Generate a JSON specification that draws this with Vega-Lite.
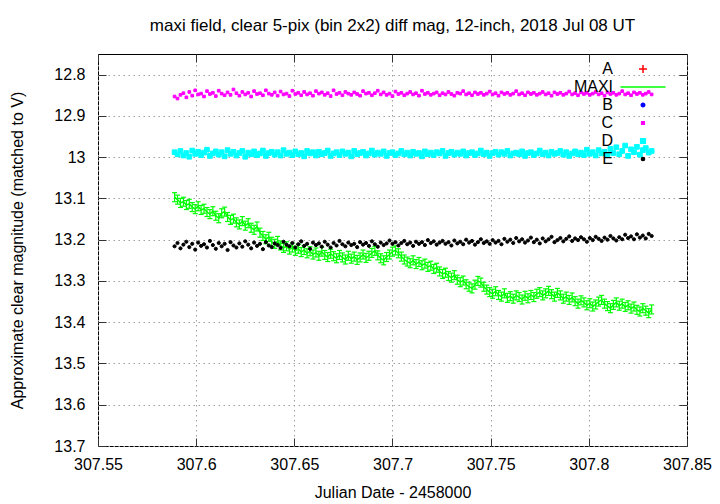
{
"$schema": "https://vega.github.io/schema/vega-lite/v6.json",
"width": 589, "height": 392,
"autosize": {"type": "none"},
"padding": {"left": 98, "top": 54, "right": 33, "bottom": 58},
"background": "white",
"title": {"text": "maxi field, clear 5-pix (bin 2x2) diff mag, 12-inch, 2018 Jul 08 UT", "fontSize": 17, "font": "Liberation Sans", "fontWeight": "normal", "color": "black", "offset": 19, "anchor": "middle"},
"config": {"view": {"stroke": "black", "strokeWidth": 1}, "font": "Liberation Sans"},
"data": {"values": [
{"t":307.589,"MAXI":13.097,"C":12.853,"D":12.988,"E":13.216},
{"t":307.5905,"MAXI":13.103,"C":12.858,"D":12.993,"E":13.208},
{"t":307.592,"MAXI":13.111,"C":12.849,"D":12.985,"E":13.221},
{"t":307.5935,"MAXI":13.108,"C":12.845,"D":12.996,"E":13.212},
{"t":307.595,"MAXI":13.116,"C":12.855,"D":12.990,"E":13.205},
{"t":307.5965,"MAXI":13.113,"C":12.842,"D":12.999,"E":13.218},
{"t":307.598,"MAXI":13.121,"C":12.851,"D":12.984,"E":13.210},
{"t":307.5995,"MAXI":13.126,"C":12.838,"D":12.992,"E":13.224},
{"t":307.601,"MAXI":13.119,"C":12.848,"D":12.987,"E":13.207},
{"t":307.6025,"MAXI":13.128,"C":12.846,"D":12.995,"E":13.215},
{"t":307.604,"MAXI":13.125,"C":12.853,"D":12.989,"E":13.211},
{"t":307.6055,"MAXI":13.133,"C":12.840,"D":12.982,"E":13.219},
{"t":307.607,"MAXI":13.138,"C":12.847,"D":12.997,"E":13.203},
{"t":307.6085,"MAXI":13.131,"C":12.844,"D":12.991,"E":13.213},
{"t":307.61,"MAXI":13.142,"C":12.852,"D":12.986,"E":13.222},
{"t":307.6115,"MAXI":13.148,"C":12.839,"D":12.994,"E":13.208},
{"t":307.613,"MAXI":13.136,"C":12.846,"D":12.988,"E":13.216},
{"t":307.6145,"MAXI":13.132,"C":12.850,"D":12.998,"E":13.210},
{"t":307.616,"MAXI":13.145,"C":12.843,"D":12.983,"E":13.225},
{"t":307.6175,"MAXI":13.152,"C":12.849,"D":12.992,"E":13.206},
{"t":307.619,"MAXI":13.149,"C":12.836,"D":12.987,"E":13.214},
{"t":307.6205,"MAXI":13.158,"C":12.845,"D":12.996,"E":13.219},
{"t":307.622,"MAXI":13.163,"C":12.851,"D":12.990,"E":13.209},
{"t":307.6235,"MAXI":13.155,"C":12.842,"D":12.985,"E":13.217},
{"t":307.625,"MAXI":13.166,"C":12.848,"D":12.999,"E":13.204},
{"t":307.6265,"MAXI":13.160,"C":12.844,"D":12.989,"E":13.212},
{"t":307.628,"MAXI":13.171,"C":12.853,"D":12.993,"E":13.221},
{"t":307.6295,"MAXI":13.176,"C":12.840,"D":12.986,"E":13.207},
{"t":307.631,"MAXI":13.168,"C":12.847,"D":12.995,"E":13.215},
{"t":307.6325,"MAXI":13.183,"C":12.845,"D":12.991,"E":13.210},
{"t":307.634,"MAXI":13.191,"C":12.850,"D":12.984,"E":13.223},
{"t":307.6355,"MAXI":13.199,"C":12.838,"D":12.997,"E":13.206},
{"t":307.637,"MAXI":13.193,"C":12.846,"D":12.990,"E":13.214},
{"t":307.6385,"MAXI":13.205,"C":12.849,"D":12.987,"E":13.218},
{"t":307.64,"MAXI":13.210,"C":12.843,"D":12.994,"E":13.209},
{"t":307.6415,"MAXI":13.203,"C":12.851,"D":12.988,"E":13.213},
{"t":307.643,"MAXI":13.214,"C":12.841,"D":12.996,"E":13.220},
{"t":307.6445,"MAXI":13.220,"C":12.848,"D":12.983,"E":13.205},
{"t":307.646,"MAXI":13.216,"C":12.846,"D":12.992,"E":13.212},
{"t":307.6475,"MAXI":13.224,"C":12.852,"D":12.989,"E":13.216},
{"t":307.649,"MAXI":13.219,"C":12.839,"D":12.995,"E":13.208},
{"t":307.6505,"MAXI":13.227,"C":12.847,"D":12.986,"E":13.219},
{"t":307.652,"MAXI":13.222,"C":12.844,"D":12.993,"E":13.211},
{"t":307.6535,"MAXI":13.230,"C":12.850,"D":12.990,"E":13.204},
{"t":307.655,"MAXI":13.225,"C":12.842,"D":12.998,"E":13.215},
{"t":307.6565,"MAXI":13.233,"C":12.848,"D":12.985,"E":13.210},
{"t":307.658,"MAXI":13.228,"C":12.845,"D":12.991,"E":13.222},
{"t":307.6595,"MAXI":13.236,"C":12.851,"D":12.988,"E":13.207},
{"t":307.661,"MAXI":13.231,"C":12.840,"D":12.996,"E":13.213},
{"t":307.6625,"MAXI":13.239,"C":12.846,"D":12.987,"E":13.209},
{"t":307.664,"MAXI":13.229,"C":12.843,"D":12.993,"E":13.217},
{"t":307.6655,"MAXI":13.237,"C":12.849,"D":12.990,"E":13.205},
{"t":307.667,"MAXI":13.242,"C":12.845,"D":12.984,"E":13.212},
{"t":307.6685,"MAXI":13.234,"C":12.852,"D":12.997,"E":13.219},
{"t":307.67,"MAXI":13.240,"C":12.838,"D":12.991,"E":13.208},
{"t":307.6715,"MAXI":13.245,"C":12.847,"D":12.988,"E":13.214},
{"t":307.673,"MAXI":13.237,"C":12.844,"D":12.995,"E":13.203},
{"t":307.6745,"MAXI":13.243,"C":12.850,"D":12.986,"E":13.211},
{"t":307.676,"MAXI":13.248,"C":12.842,"D":12.992,"E":13.216},
{"t":307.6775,"MAXI":13.239,"C":12.846,"D":12.989,"E":13.207},
{"t":307.679,"MAXI":13.246,"C":12.849,"D":12.998,"E":13.213},
{"t":307.6805,"MAXI":13.241,"C":12.843,"D":12.985,"E":13.210},
{"t":307.682,"MAXI":13.249,"C":12.847,"D":12.993,"E":13.218},
{"t":307.6835,"MAXI":13.243,"C":12.851,"D":12.990,"E":13.206},
{"t":307.685,"MAXI":13.236,"C":12.840,"D":12.987,"E":13.212},
{"t":307.6865,"MAXI":13.244,"C":12.846,"D":12.996,"E":13.208},
{"t":307.688,"MAXI":13.239,"C":12.844,"D":12.991,"E":13.215},
{"t":307.6895,"MAXI":13.232,"C":12.850,"D":12.984,"E":13.204},
{"t":307.691,"MAXI":13.227,"C":12.845,"D":12.994,"E":13.211},
{"t":307.6925,"MAXI":13.238,"C":12.839,"D":12.989,"E":13.217},
{"t":307.694,"MAXI":13.245,"C":12.848,"D":12.992,"E":13.207},
{"t":307.6955,"MAXI":13.250,"C":12.843,"D":12.986,"E":13.213},
{"t":307.697,"MAXI":13.242,"C":12.849,"D":12.997,"E":13.209},
{"t":307.6985,"MAXI":13.236,"C":12.846,"D":12.990,"E":13.202},
{"t":307.7,"MAXI":13.229,"C":12.852,"D":12.988,"E":13.210},
{"t":307.7015,"MAXI":13.226,"C":12.841,"D":12.995,"E":13.206},
{"t":307.703,"MAXI":13.233,"C":12.847,"D":12.991,"E":13.214},
{"t":307.7045,"MAXI":13.241,"C":12.844,"D":12.985,"E":13.208},
{"t":307.706,"MAXI":13.248,"C":12.850,"D":12.993,"E":13.203},
{"t":307.7075,"MAXI":13.253,"C":12.846,"D":12.989,"E":13.211},
{"t":307.709,"MAXI":13.257,"C":12.842,"D":12.996,"E":13.207},
{"t":307.7105,"MAXI":13.250,"C":12.848,"D":12.987,"E":13.215},
{"t":307.712,"MAXI":13.259,"C":12.845,"D":12.992,"E":13.205},
{"t":307.7135,"MAXI":13.254,"C":12.851,"D":12.990,"E":13.210},
{"t":307.715,"MAXI":13.262,"C":12.839,"D":12.998,"E":13.206},
{"t":307.7165,"MAXI":13.258,"C":12.847,"D":12.986,"E":13.213},
{"t":307.718,"MAXI":13.266,"C":12.844,"D":12.993,"E":13.201},
{"t":307.7195,"MAXI":13.263,"C":12.849,"D":12.989,"E":13.208},
{"t":307.721,"MAXI":13.271,"C":12.846,"D":12.995,"E":13.204},
{"t":307.7225,"MAXI":13.268,"C":12.843,"D":12.988,"E":13.212},
{"t":307.724,"MAXI":13.277,"C":12.850,"D":12.991,"E":13.207},
{"t":307.7255,"MAXI":13.283,"C":12.845,"D":12.985,"E":13.203},
{"t":307.727,"MAXI":13.280,"C":12.848,"D":12.997,"E":13.210},
{"t":307.7285,"MAXI":13.288,"C":12.842,"D":12.990,"E":13.206},
{"t":307.73,"MAXI":13.292,"C":12.847,"D":12.987,"E":13.214},
{"t":307.7315,"MAXI":13.286,"C":12.851,"D":12.994,"E":13.202},
{"t":307.733,"MAXI":13.297,"C":12.844,"D":12.989,"E":13.209},
{"t":307.7345,"MAXI":13.303,"C":12.846,"D":12.992,"E":13.205},
{"t":307.736,"MAXI":13.299,"C":12.840,"D":12.986,"E":13.211},
{"t":307.7375,"MAXI":13.308,"C":12.848,"D":12.996,"E":13.200},
{"t":307.739,"MAXI":13.314,"C":12.845,"D":12.990,"E":13.207},
{"t":307.7405,"MAXI":13.318,"C":12.850,"D":12.988,"E":13.203},
{"t":307.742,"MAXI":13.309,"C":12.843,"D":12.995,"E":13.212},
{"t":307.7435,"MAXI":13.300,"C":12.847,"D":12.991,"E":13.206},
{"t":307.745,"MAXI":13.304,"C":12.844,"D":12.984,"E":13.199},
{"t":307.7465,"MAXI":13.314,"C":12.849,"D":12.993,"E":13.208},
{"t":307.748,"MAXI":13.321,"C":12.846,"D":12.989,"E":13.204},
{"t":307.7495,"MAXI":13.327,"C":12.841,"D":12.997,"E":13.210},
{"t":307.751,"MAXI":13.331,"C":12.848,"D":12.990,"E":13.201},
{"t":307.7525,"MAXI":13.325,"C":12.845,"D":12.987,"E":13.207},
{"t":307.754,"MAXI":13.334,"C":12.851,"D":12.994,"E":13.203},
{"t":307.7555,"MAXI":13.338,"C":12.843,"D":12.988,"E":13.211},
{"t":307.757,"MAXI":13.330,"C":12.847,"D":12.992,"E":13.198},
{"t":307.7585,"MAXI":13.341,"C":12.844,"D":12.985,"E":13.205},
{"t":307.76,"MAXI":13.337,"C":12.849,"D":12.996,"E":13.200},
{"t":307.7615,"MAXI":13.343,"C":12.846,"D":12.991,"E":13.208},
{"t":307.763,"MAXI":13.335,"C":12.840,"D":12.989,"E":13.196},
{"t":307.7645,"MAXI":13.339,"C":12.848,"D":12.993,"E":13.204},
{"t":307.766,"MAXI":13.345,"C":12.845,"D":12.986,"E":13.199},
{"t":307.7675,"MAXI":13.336,"C":12.850,"D":12.997,"E":13.207},
{"t":307.769,"MAXI":13.342,"C":12.843,"D":12.990,"E":13.202},
{"t":307.7705,"MAXI":13.334,"C":12.847,"D":12.988,"E":13.195},
{"t":307.772,"MAXI":13.339,"C":12.844,"D":12.995,"E":13.206},
{"t":307.7735,"MAXI":13.331,"C":12.849,"D":12.991,"E":13.200},
{"t":307.775,"MAXI":13.327,"C":12.846,"D":12.984,"E":13.209},
{"t":307.7765,"MAXI":13.335,"C":12.842,"D":12.993,"E":13.197},
{"t":307.778,"MAXI":13.330,"C":12.848,"D":12.989,"E":13.204},
{"t":307.7795,"MAXI":13.324,"C":12.845,"D":12.996,"E":13.199},
{"t":307.781,"MAXI":13.332,"C":12.851,"D":12.987,"E":13.193},
{"t":307.7825,"MAXI":13.338,"C":12.843,"D":12.992,"E":13.206},
{"t":307.784,"MAXI":13.329,"C":12.847,"D":12.990,"E":13.201},
{"t":307.7855,"MAXI":13.335,"C":12.844,"D":12.985,"E":13.196},
{"t":307.787,"MAXI":13.343,"C":12.849,"D":12.994,"E":13.204},
{"t":307.7885,"MAXI":13.338,"C":12.846,"D":12.988,"E":13.198},
{"t":307.79,"MAXI":13.346,"C":12.841,"D":12.997,"E":13.192},
{"t":307.7915,"MAXI":13.340,"C":12.848,"D":12.991,"E":13.203},
{"t":307.793,"MAXI":13.349,"C":12.845,"D":12.986,"E":13.197},
{"t":307.7945,"MAXI":13.355,"C":12.850,"D":12.993,"E":13.201},
{"t":307.796,"MAXI":13.347,"C":12.843,"D":12.989,"E":13.194},
{"t":307.7975,"MAXI":13.352,"C":12.847,"D":12.995,"E":13.199},
{"t":307.799,"MAXI":13.359,"C":12.844,"D":12.982,"E":13.205},
{"t":307.8005,"MAXI":13.354,"C":12.849,"D":12.992,"E":13.196},
{"t":307.802,"MAXI":13.362,"C":12.846,"D":12.988,"E":13.201},
{"t":307.8035,"MAXI":13.357,"C":12.842,"D":12.996,"E":13.193},
{"t":307.805,"MAXI":13.350,"C":12.848,"D":12.983,"E":13.198},
{"t":307.8065,"MAXI":13.346,"C":12.845,"D":12.991,"E":13.203},
{"t":307.808,"MAXI":13.355,"C":12.851,"D":12.987,"E":13.195},
{"t":307.8095,"MAXI":13.361,"C":12.843,"D":12.994,"E":13.200},
{"t":307.811,"MAXI":13.366,"C":12.847,"D":12.980,"E":13.191},
{"t":307.8125,"MAXI":13.358,"C":12.844,"D":12.990,"E":13.197},
{"t":307.814,"MAXI":13.352,"C":12.849,"D":12.976,"E":13.202},
{"t":307.8155,"MAXI":13.360,"C":12.846,"D":12.993,"E":13.194},
{"t":307.817,"MAXI":13.355,"C":12.840,"D":12.985,"E":13.199},
{"t":307.8185,"MAXI":13.363,"C":12.848,"D":12.972,"E":13.188},
{"t":307.82,"MAXI":13.359,"C":12.845,"D":12.997,"E":13.196},
{"t":307.8215,"MAXI":13.367,"C":12.850,"D":12.981,"E":13.192},
{"t":307.823,"MAXI":13.362,"C":12.843,"D":12.988,"E":13.199},
{"t":307.8245,"MAXI":13.370,"C":12.847,"D":12.975,"E":13.187},
{"t":307.826,"MAXI":13.374,"C":12.844,"D":12.994,"E":13.195},
{"t":307.8275,"MAXI":13.366,"C":12.849,"D":12.983,"E":13.190},
{"t":307.829,"MAXI":13.372,"C":12.846,"D":12.978,"E":13.197},
{"t":307.8305,"MAXI":13.378,"C":12.842,"D":12.989,"E":13.186},
{"t":307.832,"MAXI":13.369,"C":12.848,"D":12.985,"E":13.191}
]},
"layer": [
{"mark": {"type": "line", "color": "#00ff00", "strokeWidth": 1.5},
 "encoding": {
  "x": {"field": "t", "type": "quantitative", "scale": {"domain": [307.55, 307.85], "nice": false, "zero": false}, "axis": null},
  "y": {"field": "MAXI", "type": "quantitative", "scale": {"domain": [12.75, 13.7], "reverse": true, "nice": false, "zero": false}, "axis": null}}},
{"mark": {"type": "tick", "orient": "vertical", "color": "#00ff00", "size": 9, "thickness": 1.2, "opacity": 1},
 "encoding": {
  "x": {"field": "t", "type": "quantitative", "axis": null},
  "y": {"field": "MAXI", "type": "quantitative", "axis": null}}},
{"mark": {"type": "tick", "orient": "horizontal", "color": "#00ff00", "size": 5, "thickness": 1.2, "yOffset": -4.5, "opacity": 1},
 "encoding": {
  "x": {"field": "t", "type": "quantitative", "axis": null},
  "y": {"field": "MAXI", "type": "quantitative", "axis": null}}},
{"mark": {"type": "tick", "orient": "horizontal", "color": "#00ff00", "size": 5, "thickness": 1.2, "yOffset": 4.5, "opacity": 1},
 "encoding": {
  "x": {"field": "t", "type": "quantitative", "axis": null},
  "y": {"field": "MAXI", "type": "quantitative", "axis": null}}},
{"transform": [{"fold": ["C", "D", "E"], "as": ["series", "mag"]}],
 "mark": {"type": "point", "filled": true, "opacity": 1, "strokeWidth": 1},
 "encoding": {
  "x": {"field": "t", "type": "quantitative",
        "axis": {"orient": "bottom", "values": [307.55, 307.6, 307.65, 307.7, 307.75, 307.8, 307.85], "format": ".2~f",
                 "title": "Julian Date - 2458000", "titleFontSize": 16, "titleFont": "Liberation Sans", "titleFontWeight": "normal", "titleColor": "black",
                 "titleY": 46, "titleBaseline": "middle",
                 "labelFontSize": 16, "labelFont": "Liberation Sans", "labelColor": "black", "labelPadding": 18, "labelFlush": false, "labelOverlap": false,
                 "tickSize": -8, "tickColor": "#333333", "domain": false,
                 "grid": true, "gridDash": [1.5, 3.5], "gridColor": "#a0a0a0"}},
  "y": {"field": "mag", "type": "quantitative",
        "axis": {"orient": "left", "values": [12.8, 12.9, 13, 13.1, 13.2, 13.3, 13.4, 13.5, 13.6, 13.7], "format": ".1~f",
                 "title": "Approximate clear magnitude (matched to V)", "titleFontSize": 16, "titleFont": "Liberation Sans", "titleFontWeight": "normal", "titleColor": "black",
                 "titleX": -81, "titleY": 196, "titleBaseline": "middle", "titleAlign": "center", "titleAngle": -90,
                 "labelFontSize": 16, "labelFont": "Liberation Sans", "labelColor": "black", "labelPadding": 21, "labelFlush": false, "labelOverlap": false,
                 "tickSize": -8, "tickColor": "#333333", "domain": false,
                 "grid": true, "gridDash": [1.5, 3.5], "gridColor": "#a0a0a0"}},
  "fill": {"field": "series", "type": "nominal",
           "scale": {"domain": ["A", "MAXI", "B", "C", "D", "E"], "range": ["#ff0000", "#00ff00", "#0000ff", "#ff00ff", "#00ffff", "#000000"]},
           "legend": {"orient": "none", "legendX": 537, "legendY": 7, "title": null, "padding": 0, "labelFontSize": 16, "labelFont": "Liberation Sans", "labelColor": "black", "labelAlign": "right", "labelOffset": -38, "rowPadding": 2, "symbolStrokeWidth": 1.5}},
  "stroke": {"field": "series", "type": "nominal",
           "scale": {"domain": ["A", "MAXI", "B", "C", "D", "E"], "range": ["#ff0000", "#00ff00", "#0000ff", "#ff00ff", "#00ffff", "#000000"]},
           "legend": {"orient": "none", "legendX": 537, "legendY": 7, "title": null, "padding": 0, "labelFontSize": 16, "labelFont": "Liberation Sans", "labelColor": "black", "labelAlign": "right", "labelOffset": -38, "rowPadding": 2, "symbolStrokeWidth": 1.5}},
  "shape": {"field": "series", "type": "nominal",
           "scale": {"domain": ["A", "MAXI", "B", "C", "D", "E"], "range": ["M-1,0H1M0,-1V1", "M-5,0H5", "circle", "square", "square", "circle"]},
           "legend": {"orient": "none", "legendX": 537, "legendY": 7, "title": null, "padding": 0, "labelFontSize": 16, "labelFont": "Liberation Sans", "labelColor": "black", "labelAlign": "right", "labelOffset": -38, "rowPadding": 2, "symbolStrokeWidth": 1.5}},
  "size": {"field": "series", "type": "nominal",
           "scale": {"type": "ordinal", "domain": ["A", "MAXI", "B", "C", "D", "E"], "range": [64, 81, 12, 7, 22, 10]},
           "legend": {"orient": "none", "legendX": 537, "legendY": 7, "title": null, "padding": 0, "labelFontSize": 16, "labelFont": "Liberation Sans", "labelColor": "black", "labelAlign": "right", "labelOffset": -38, "rowPadding": 2, "symbolStrokeWidth": 1.5}}
 }},
{"mark": {"type": "point", "opacity": 0},
 "encoding": {
  "x": {"field": "t", "type": "quantitative",
        "axis": {"orient": "top", "values": [307.55, 307.6, 307.65, 307.7, 307.75, 307.8, 307.85], "labels": false, "title": null, "tickSize": -8, "tickColor": "#333333", "domain": false, "grid": false}},
  "y": {"field": "MAXI", "type": "quantitative",
        "axis": {"orient": "right", "values": [12.8, 12.9, 13, 13.1, 13.2, 13.3, 13.4, 13.5, 13.6, 13.7], "labels": false, "title": null, "tickSize": -8, "tickColor": "#333333", "domain": false, "grid": false}}}}
],
"resolve": {"axis": {"x": "independent", "y": "independent"}}
}
